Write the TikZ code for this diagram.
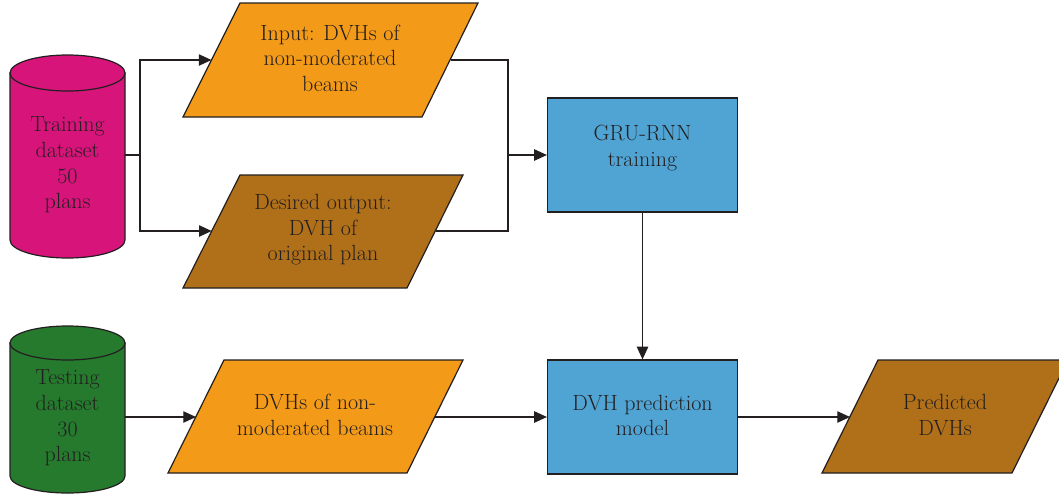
\documentclass[tikz,border=0pt]{standalone}
\usetikzlibrary{arrows.meta}
\definecolor{cmag}{RGB}{214,20,122}
\definecolor{cgreen}{RGB}{37,122,46}
\definecolor{corange}{RGB}{243,154,24}
\definecolor{cbrown}{RGB}{176,112,26}
\definecolor{cblue}{RGB}{80,164,212}
\definecolor{cline}{RGB}{35,31,32}
\begin{document}
\begin{tikzpicture}[x=0.75pt,y=-0.75pt,
  shapeline/.style={draw=cline,line width=0.9pt,line join=miter},
  conn/.style={draw=cline,line width=0.9pt},
  arr/.style={conn,-{Triangle[length=9.5pt,width=8.5pt]}},
  txt/.style={text=cline,align=center,font=\fontsize{16.5}{19.2}\selectfont,inner sep=0pt},
  boxnode/.style={shapeline,fill=cblue,minimum width=190*0.75pt,minimum height=114*0.75pt,inner sep=0pt}
]
\useasboundingbox (0,0) rectangle (1059,494);
\clip (0,0) rectangle (1059,494);
\fill[white] (0,0) rectangle (1059,494);

% Training cylinder
\draw[shapeline,fill=cmag] (10,73) -- (10,240) arc[start angle=180,end angle=0,x radius=57.5,y radius=18] -- (125,73) -- cycle;
\draw[shapeline,fill=cmag] (67.5,73) ellipse[x radius=57.5,y radius=18];
\node[txt] (train) at (67.5,165) {Training\\dataset\\50\\plans};
\coordinate (traine) at (125,155);

% Testing cylinder
\draw[shapeline,fill=cgreen] (10,343) -- (10,476) arc[start angle=180,end angle=0,x radius=57.5,y radius=17] -- (125,343) -- cycle;
\draw[shapeline,fill=cgreen] (67.5,343) ellipse[x radius=57.5,y radius=17];
\node[txt] (test) at (67.5,418) {Testing\\dataset\\30\\plans};
\coordinate (teste) at (125,417);

% Parallelograms
\draw[shapeline,fill=corange] (240,3) -- (478,3) -- (422,117) -- (183,117) -- cycle;
\node[txt] (p1) at (330,58) {Input: DVHs of\\non-moderated\\beams};
\coordinate (p1w) at (211.5,60);
\coordinate (p1e) at (450.5,60);

\draw[shapeline,fill=cbrown] (240,175) -- (463,175) -- (407,288) -- (183,288) -- cycle;
\node[txt] (p2) at (323,230) {Desired output:\\DVH of\\original plan};
\coordinate (p2w) at (211.7,231);
\coordinate (p2e) at (435.7,231);

\draw[shapeline,fill=corange] (224,360) -- (463,360) -- (407,473) -- (168,473) -- cycle;
\node[txt] (p3) at (315,415) {DVHs of non-\\moderated beams};
\coordinate (p3w) at (196,417);
\coordinate (p3e) at (435,417);

\draw[shapeline,fill=cbrown] (878,360) -- (1068,360) -- (1012,473) -- (822,473) -- cycle;
\node[txt] (p4) at (945,415) {Predicted\\DVHs};
\coordinate (p4w) at (850,417);

% Boxes
\node[boxnode] (gru) at (642.5,155) {};
\node[txt] at ([yshift=7*0.75pt]gru.center) {GRU-RNN\\training};
\node[boxnode] (pred) at (642.5,417) {};
\node[txt] at ([yshift=1.5*0.75pt]pred.center) {DVH prediction\\model};

% Connectors
\coordinate (j1) at (140,155);
\coordinate (j2) at (508,155);
\draw[conn] (traine) -- (j1);
\draw[arr] (j1) |- (p1w);
\draw[arr] (j1) |- (p2w);
\draw[conn] (p1e) -| (j2);
\draw[conn] (p2e) -| (j2);
\draw[arr] (j2) -- (gru.west);
\draw[arr] (gru.south) -- (pred.north);
\draw[arr] (teste) -- (p3w);
\draw[arr] (p3e) -- (pred.west);
\draw[arr] (pred.east) -- (p4w);
\end{tikzpicture}
\end{document}
